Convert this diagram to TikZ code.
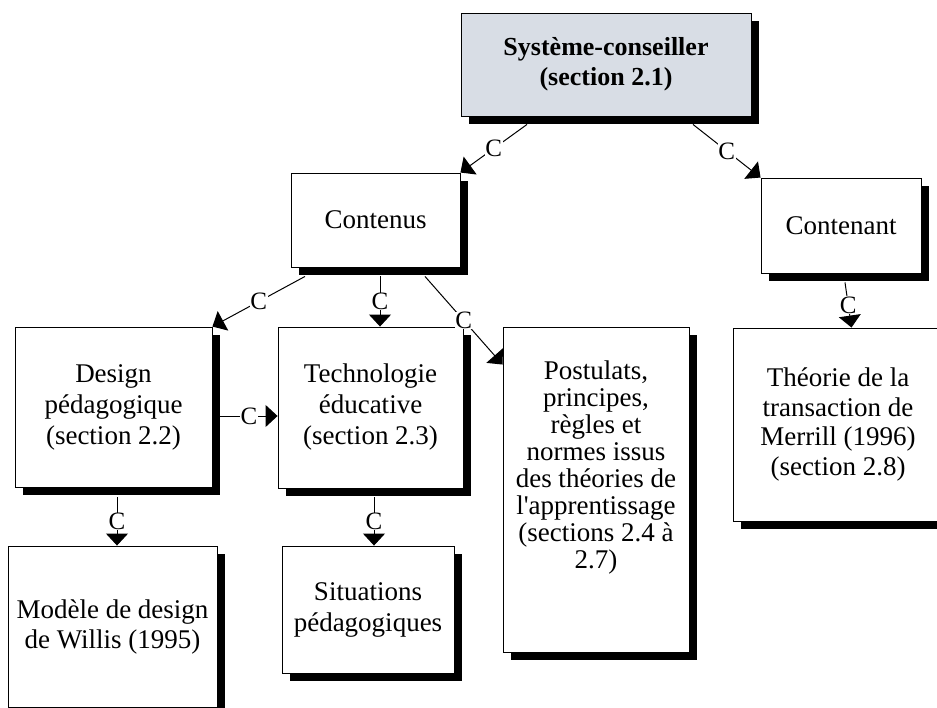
\documentclass[tikz,border=0pt]{standalone}
\usepackage{fontspec}
\setmainfont{Liberation Serif}[Ligatures=TeXOff]
\usetikzlibrary{arrows.meta,shadows}
\definecolor{headfill}{RGB}{216,221,229}
\tikzset{
  box/.style={draw=black, line width=0.9pt, fill=white, inner sep=0pt,
    align=center, font=\fontsize{27}{31}\selectfont,
    drop shadow={shadow xshift=8pt, shadow yshift=-8pt, fill=black, opacity=1}},
  boxtext/.style={inner sep=0pt, align=center},
  conn/.style={line width=1pt, -{Triangle[length=12pt,width=22pt]}},
  lab/.style={fill=white, inner sep=0.6pt, font=\fontsize{25}{25}\selectfont},
}
\begin{document}
\begin{tikzpicture}[x=1pt,y=-1pt]
\useasboundingbox (0,0) rectangle (937,708);
\clip (0,0) rectangle (937,708);

% boxes
\node[box, fill=headfill, font=\bfseries\fontsize{26}{30}\selectfont,
  minimum width=290pt, minimum height=103pt] (sys) at (606,64.5)
  {Système-conseiller\\(section 2.1)};
\node[box, minimum width=169pt, minimum height=94pt] (contenus) at (375.5,220) {Contenus};
\node[box, minimum width=160pt, minimum height=95pt] (contenant) at (841,225.5) {Contenant};
\node[box, minimum width=197pt, minimum height=160pt] (design) at (113.5,407)
  {Design\\pédagogique\\(section 2.2)};
\node[box, minimum width=185pt, minimum height=161pt] (tech) at (370.5,407.5)
  {Technologie\\éducative\\(section 2.3)};
\node[box, minimum width=186pt, minimum height=325pt] (postulats) at (596,489.5) {};
\node[boxtext, anchor=north, font=\fontsize{27}{27}\selectfont] (postulatstext)
  at ([yshift=-34pt]postulats.north)
  {Postulats,\\principes,\\règles et\\normes issus\\des théories de\\l'apprentissage\\(sections 2.4 à\\2.7)};
\node[box, font=\fontsize{27}{29.5}\selectfont, minimum width=210pt, minimum height=193pt]
  (theorie) at (838,424.5)
  {Théorie de la\\transaction de\\Merrill (1996)\\(section 2.8)};
\node[box, minimum width=172pt, minimum height=127pt] (situations) at (368,609.5)
  {Situations\\pédagogiques};
\node[box, font=\fontsize{27}{30}\selectfont, minimum width=209pt, minimum height=161pt]
  (modele) at (112.5,626.5)
  {Modèle de design\\de Willis (1995)};

% connectors
\draw[conn] ([xshift=-79pt,yshift=-8pt]sys.south) -- node[lab]{C} (contenus.north east);
\draw[conn] ([xshift=87pt,yshift=-8pt]sys.south) -- node[lab]{C} (contenant.north west);
\draw[conn] ([xshift=-70.5pt,yshift=-9pt]contenus.south) -- node[lab]{C} (design.north east);
\draw[conn] ([xshift=4.5pt,yshift=-9pt]contenus.south) -- node[lab]{C} ([xshift=9.5pt]tech.north);
\draw[conn] ([xshift=49.5pt,yshift=-9pt]contenus.south) -- node[lab]{C} ([yshift=-38pt]postulats.north west);
\draw[conn] ([xshift=8pt,yshift=-9pt]design.east) -- node[lab]{C} ([yshift=-8.5pt]tech.west);
\draw[conn] ([xshift=3.5pt,yshift=-10pt]design.south) -- node[lab]{C} ([xshift=4.5pt]modele.north);
\draw[conn] ([xshift=3.5pt,yshift=-9pt]tech.south) -- node[lab]{C} ([xshift=6pt]situations.north);
\draw[conn] ([xshift=4pt,yshift=-9pt]contenant.south) -- node[lab]{C} ([xshift=13.5pt]theorie.north);
\end{tikzpicture}
\end{document}
